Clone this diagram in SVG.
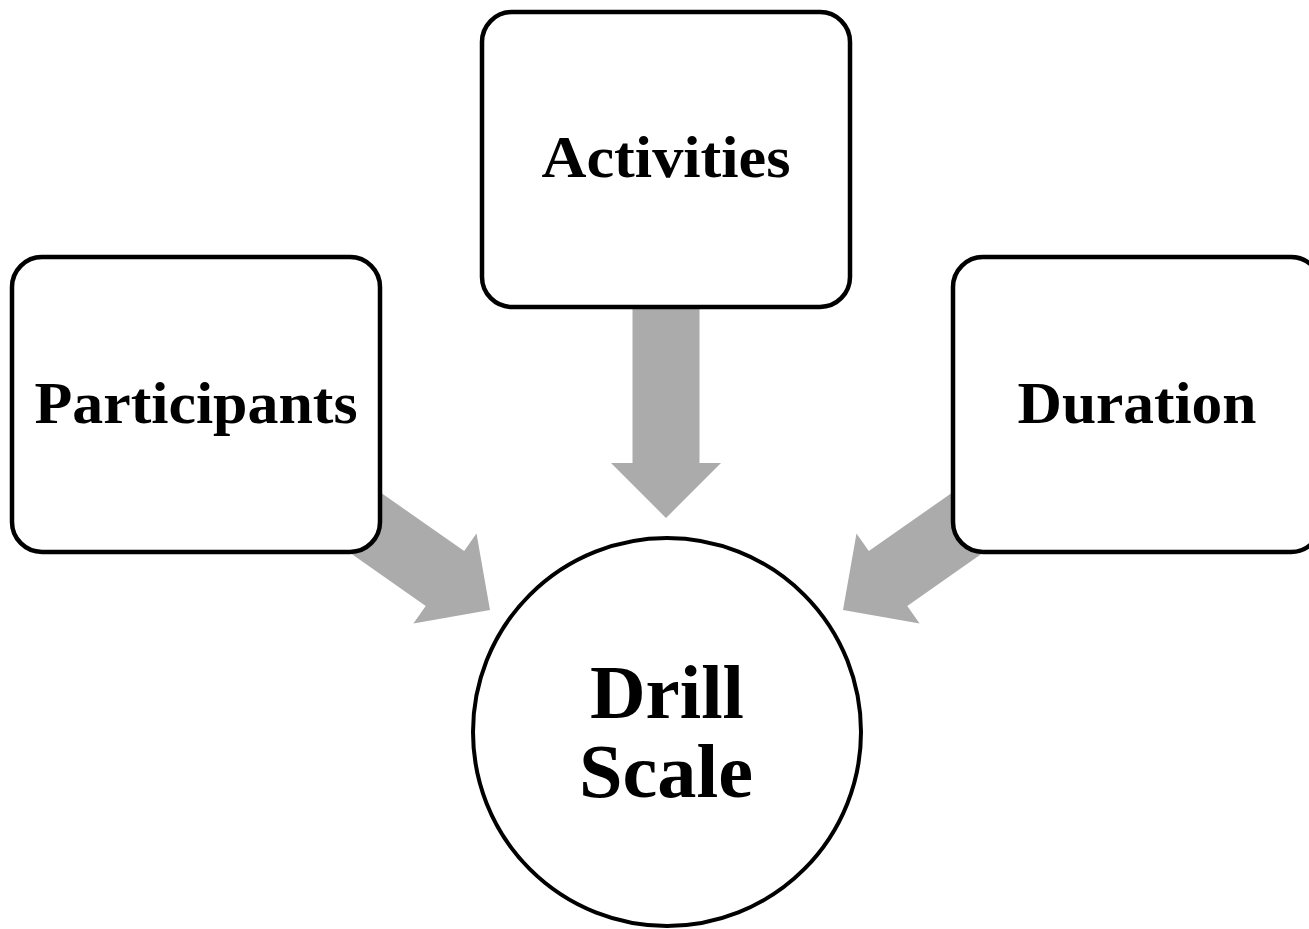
<svg xmlns="http://www.w3.org/2000/svg" width="1309" height="929" viewBox="0 0 1309 929">
<defs>
<style>
.box{fill:#ffffff;stroke:#000000;stroke-width:4.5}
.arrow{fill:#ababab;stroke:none}
.lbl{font-family:"Liberation Serif","Times New Roman",serif;font-weight:bold;fill:#000000;text-anchor:middle}
</style>
<polygon id="arr" points="0,0 -55,-55 -55,-33.5 -215,-33.5 -215,33.5 -55,33.5 -55,55"/>
</defs>
<rect width="1309" height="929" fill="#ffffff"/>
<g id="connectors">
<use href="#arr" class="arrow" transform="translate(666,518) rotate(90)"/>
<use href="#arr" class="arrow" transform="translate(490,610) rotate(35)"/>
<use href="#arr" class="arrow" transform="translate(843,610) rotate(145)"/>
</g>
<g id="node-activities">
<rect class="box" x="482" y="12" width="368" height="295" rx="30"/>
<text class="lbl" x="666" y="177" font-size="60" textLength="249" lengthAdjust="spacingAndGlyphs">Activities</text>
</g>
<g id="node-participants">
<rect class="box" x="12" y="257" width="368" height="295" rx="30"/>
<text class="lbl" x="196" y="423" font-size="60" textLength="323" lengthAdjust="spacingAndGlyphs">Participants</text>
</g>
<g id="node-duration">
<rect class="box" x="953" y="257" width="368" height="295" rx="30"/>
<text class="lbl" x="1137" y="423" font-size="60" textLength="239" lengthAdjust="spacingAndGlyphs">Duration</text>
</g>
<g id="node-drill-scale">
<circle cx="667" cy="732" r="194" fill="#ffffff" stroke="#000000" stroke-width="4"/>
<text class="lbl" x="667" y="718" font-size="76" textLength="154" lengthAdjust="spacingAndGlyphs">Drill</text>
<text class="lbl" x="666" y="797" font-size="76" textLength="174" lengthAdjust="spacingAndGlyphs">Scale</text>
</g>
</svg>
